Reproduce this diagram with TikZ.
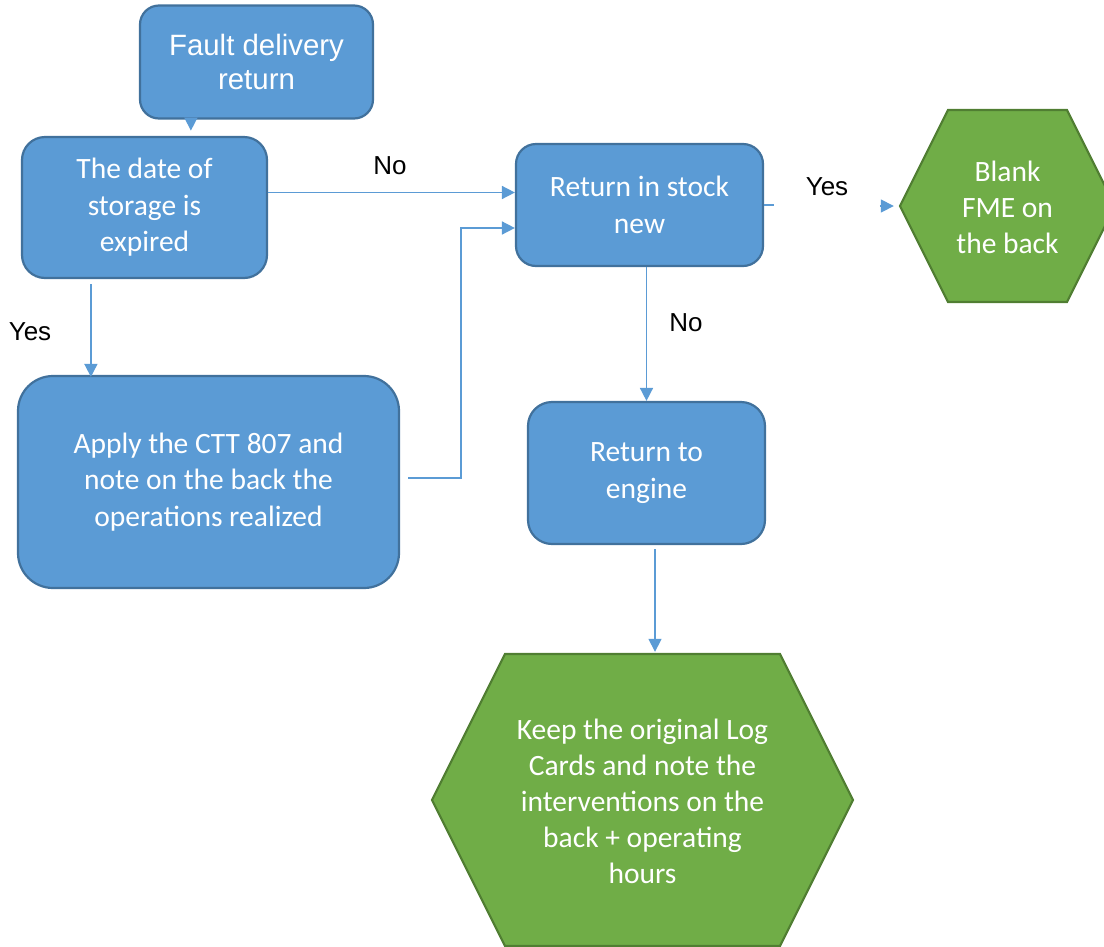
\documentclass[tikz,border=0pt]{standalone}
\usepackage{fontspec}
\setmainfont{Carlito}
\newfontfamily\arialf{Liberation Sans}
\usepackage{tikz}
\usetikzlibrary{calc,arrows.meta}

\definecolor{boxblue}{HTML}{5B9BD5}
\definecolor{boxedge}{HTML}{41719C}
\definecolor{hexgreen}{HTML}{70AD47}
\definecolor{hexedge}{HTML}{507E32}
\definecolor{linkblue}{HTML}{5B9BD5}

\tikzset{
    stepbox/.style={draw=boxedge,line width=2.2pt,fill=boxblue,text=white,
        align=center,font=\fontsize{29.5}{36.5}\selectfont,inner sep=0pt},
    hexbox/.style={draw=hexedge,line width=2.2pt,fill=hexgreen},
    hextext/.style={text=white,align=center,font=\fontsize{29.5}{36}\selectfont},
    conn/.style={draw=linkblue,line width=1.6pt,-{Triangle[length=13pt,width=13pt]}},
    lbl/.style={font=\arialf\fontsize{26}{30}\selectfont,text=black}
}

\begin{document}
\begin{tikzpicture}[x=1pt,y=-1pt]
    \useasboundingbox (0,0) rectangle (1104,946);
    \clip (0,0) rectangle (1104,946);
    % boxes
    \node[stepbox,rounded corners=19pt,minimum width=233pt,minimum height=113pt,
        font=\arialf\fontsize{29.4}{34}\selectfont] (fault) at (256.5,62) {Fault delivery\\return};
    \node[stepbox,rounded corners=23pt,minimum width=245pt,minimum height=141pt] (date) at (144.5,207.5) {The date of\\storage is\\expired};
    \node[stepbox,rounded corners=20pt,minimum width=247pt,minimum height=122pt] (stock) at (639.5,205) {Return in stock\\new};
    \node[stepbox,rounded corners=35pt,minimum width=381pt,minimum height=212pt] (apply) at (208.5,482) {Apply the CTT 807 and\\note on the back the\\operations realized};
    \node[stepbox,rounded corners=24pt,minimum width=237pt,minimum height=142pt] (engine) at (646.5,473) {Return to\\engine};

    % hexagons
    \newcommand{\hexa}[4]{% center x, center y, half width, inset
        \draw[hexbox] (#1-#3,#2) -- (#1-#3+#4,#2-2*#4) -- (#1+#3-#4,#2-2*#4)
            -- (#1+#3,#2) -- (#1+#3-#4,#2+2*#4) -- (#1-#3+#4,#2+2*#4) -- cycle;}
    \hexa{1007.5}{206}{107.5}{48}
    \node[hextext,minimum width=215pt,minimum height=192pt,inner sep=0pt] (blank) at (1007.5,207) {Blank\\FME on\\the back};
    \hexa{642.5}{800}{210.5}{73}
    \node[hextext,minimum width=421pt,minimum height=292pt,inner sep=0pt] (keep) at (642.5,801) {Keep the original Log\\Cards and note the\\interventions on the\\back + operating\\hours};

    % connectors
    \draw[conn] ($(fault.south west)+(52,0)$) -- ++(0,11);
    \draw[conn] ([yshift=15pt]date.east) -- ([yshift=15pt]date.east -| stock.west);
    \draw[conn] ($(apply.east)+(8,-4)$) -| ($(stock.west)+(-54,23)$) -- ($(stock.west)+(0,23)$);
    \draw[conn] ($(date.south west)+(70,5)$) -- ($(apply.north west)+(74,2)$);
    \draw[draw=linkblue,line width=1.6pt] (stock.east) -- ++(10,0);
    \draw[conn] ($(blank.west)+(-20,-1)$) -- ($(blank.west)+(-6,-1)$);
    \draw[conn] (engine.north |- stock.south) -- (engine.north);
    \draw[conn] ($(engine.south)+(8.5,4)$) -- ($(keep.north)+(12.5,-3)$);

    % labels
    \node[lbl] (noa) at (390,166) {No};
    \node[lbl] (yesa) at (30,332) {Yes};
    \node[lbl] (yesb) at (827,187) {Yes};
    \node[lbl] (nob) at (686,323) {No};
\end{tikzpicture}
\end{document}
